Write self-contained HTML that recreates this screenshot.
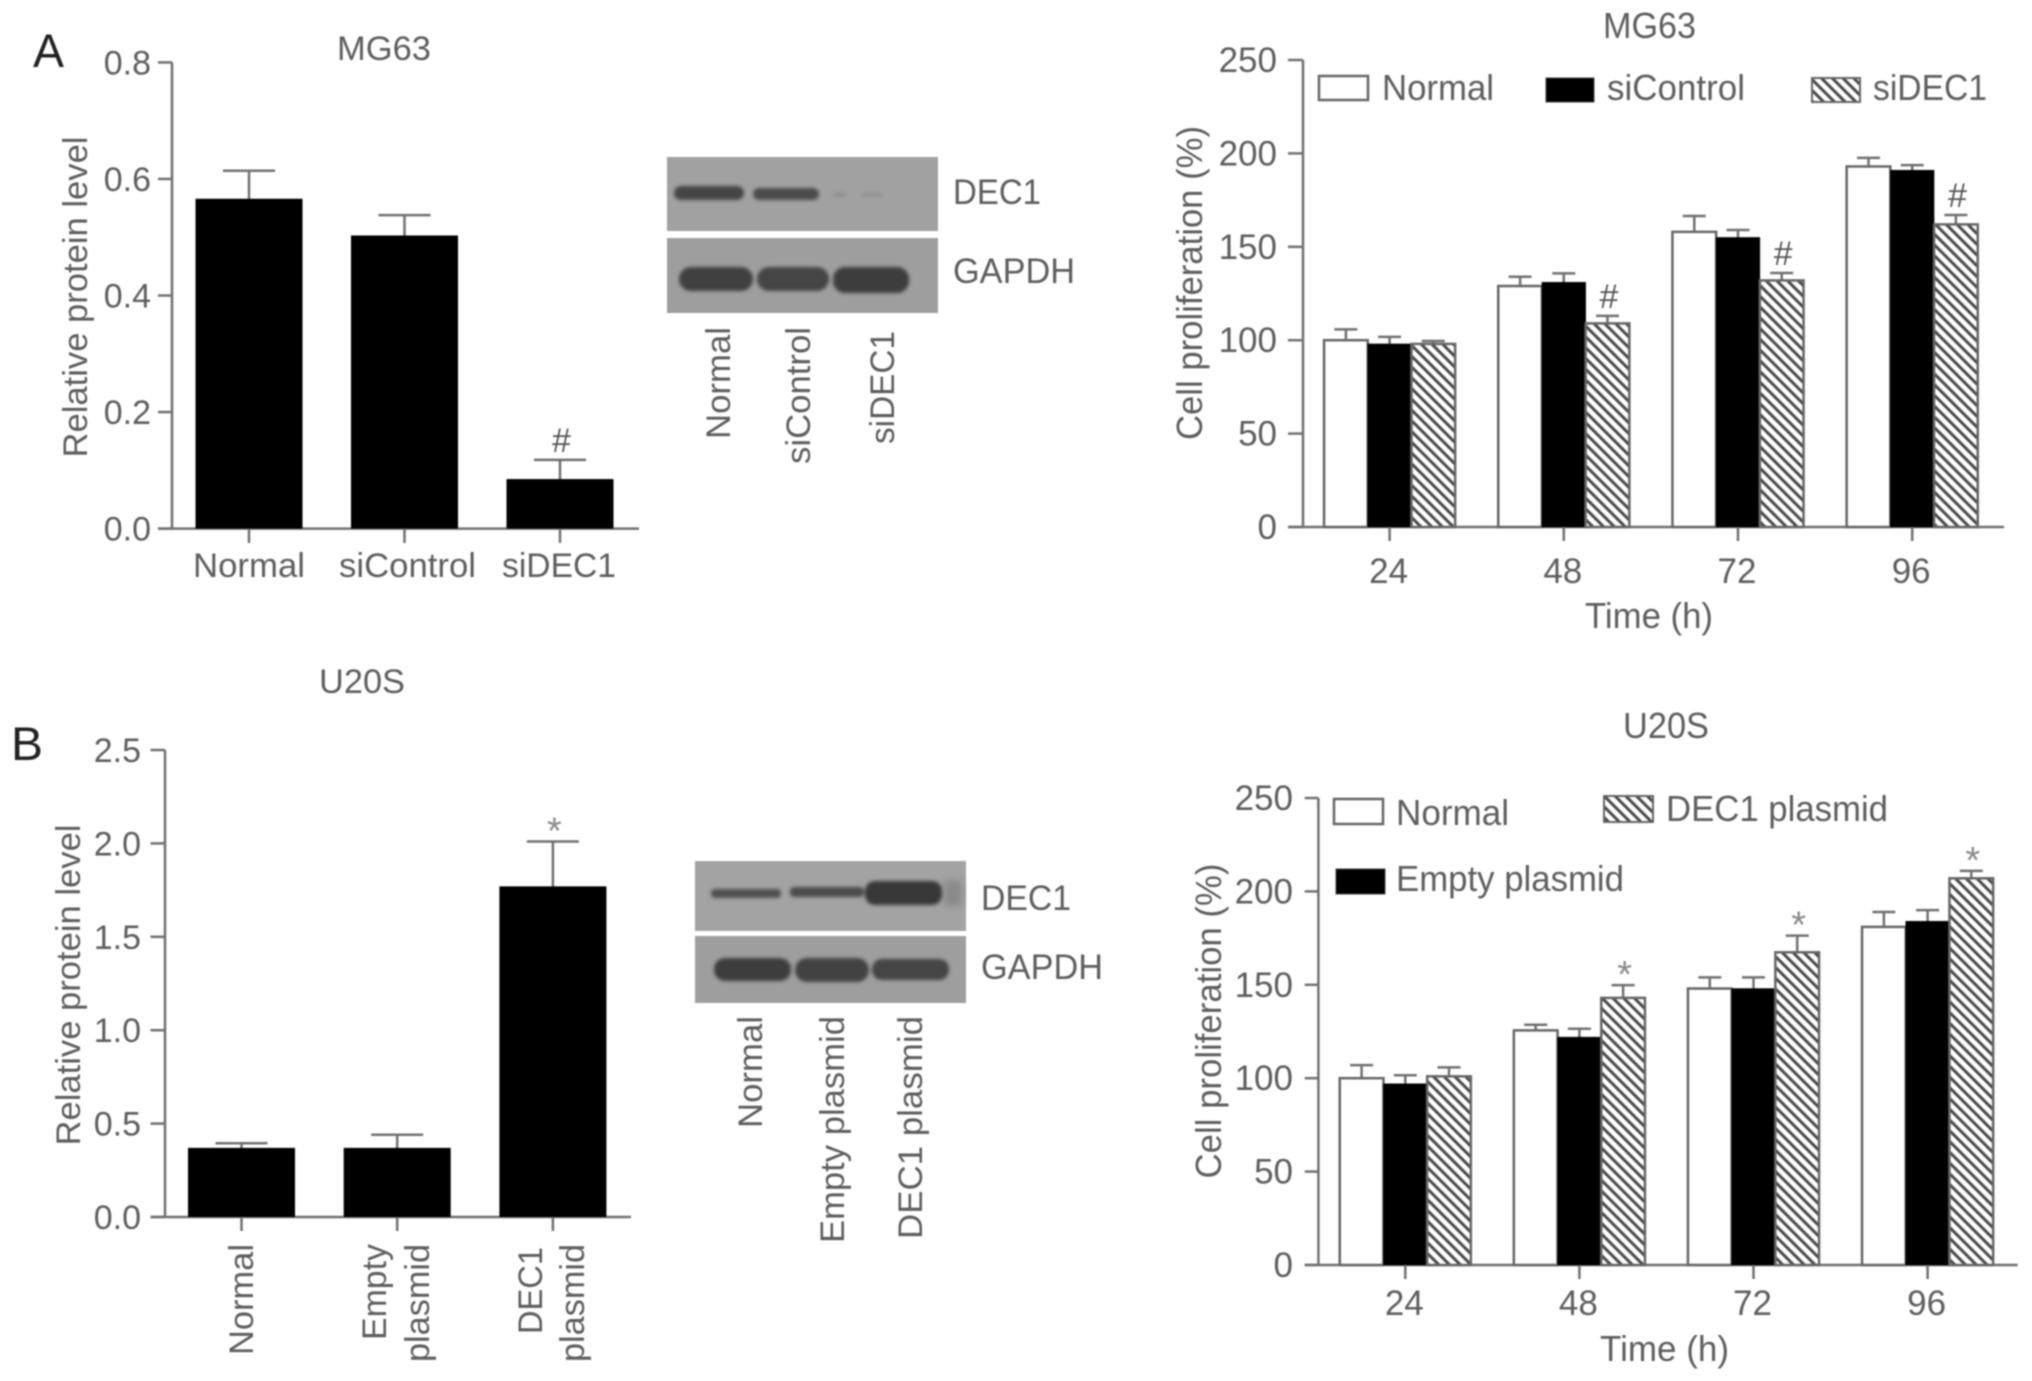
<!DOCTYPE html>
<html lang="en">
<head>
<meta charset="utf-8">
<title>DEC1 protein level and cell proliferation in MG63 and U20S cells</title>
<style>
  html, body { margin: 0; padding: 0; background: #fff; }
  body { width: 2032px; height: 1381px; overflow: hidden; }
  svg { display: block; filter: blur(0.7px); }
  text { font-family: "Liberation Sans", sans-serif; fill: #5e5e5e; font-size: 34px; }
  .panel { fill: #222; font-size: 47px; }
  .tall text { font-size: 36px; }
  #chartA2 text, #chartB2 text { font-size: 35px; }
  .tall .panel { font-size: 47px; }
</style>
</head>
<body>
<svg id="figure" xmlns="http://www.w3.org/2000/svg" width="2032" height="1381" viewBox="0 0 2032 1381">
  <defs>
    <pattern id="hatch" patternUnits="userSpaceOnUse" width="7.6" height="7.6" patternTransform="rotate(-45)">
      <rect width="7.6" height="7.6" fill="#fff"/>
      <rect width="3" height="7.6" fill="#4a4a4a"/>
    </pattern>
    <filter id="soft" x="-20%" y="-60%" width="140%" height="220%"><feGaussianBlur stdDeviation="1.8"/></filter>
    <filter id="softer" x="-30%" y="-100%" width="160%" height="300%"><feGaussianBlur stdDeviation="3.5"/></filter>
  </defs>
  <rect width="2032" height="1381" fill="#fff"/>

  <!-- Panel letters -->
  <text class="panel" x="33" y="67" textLength="31" lengthAdjust="spacingAndGlyphs">A</text>
  <text class="panel" x="11" y="760" textLength="32" lengthAdjust="spacingAndGlyphs">B</text>

  <!-- A, protein chart fixed labels -->
  <g>
    <text x="337" y="60" textLength="94" lengthAdjust="spacingAndGlyphs">MG63</text>
    <text transform="translate(87 297) rotate(-90)" text-anchor="middle" textLength="321" lengthAdjust="spacingAndGlyphs">Relative protein level</text>
    <text x="193" y="577" textLength="112" lengthAdjust="spacingAndGlyphs">Normal</text>
    <text x="339" y="577" textLength="137" lengthAdjust="spacingAndGlyphs">siControl</text>
    <text x="502" y="577" textLength="114" lengthAdjust="spacingAndGlyphs">siDEC1</text>
    <g id="chartA1"></g>
  </g>

  <!-- A, western blot -->
  <g>
    <rect x="667" y="157" width="271" height="74" fill="#a1a1a1"/>
    <rect x="667" y="238" width="271" height="75" fill="#9e9e9e"/>
    <g filter="url(#soft)">
      <rect x="674" y="186" width="70" height="14" rx="7" fill="#454545"/>
      <rect x="753" y="188" width="66" height="12" rx="6" fill="#4c4c4c"/>
      <rect x="833" y="193" width="13" height="3" fill="#888"/>
      <rect x="862" y="193" width="20" height="3" fill="#8c8c8c"/>
      <rect x="679" y="267" width="74" height="24" rx="12" fill="#3f3f3f"/>
      <rect x="757" y="267" width="72" height="24" rx="12" fill="#444"/>
      <rect x="833" y="267" width="76" height="26" rx="12" fill="#3c3c3c"/>
    </g>
    <text x="953" y="204" textLength="88" lengthAdjust="spacingAndGlyphs" style="font-size:35px">DEC1</text>
    <text x="953" y="283" textLength="122" lengthAdjust="spacingAndGlyphs" style="font-size:35px">GAPDH</text>
    <text transform="translate(730 439) rotate(-90)" textLength="112" lengthAdjust="spacingAndGlyphs">Normal</text>
    <text transform="translate(810 464) rotate(-90)" textLength="137" lengthAdjust="spacingAndGlyphs">siControl</text>
    <text transform="translate(894 444) rotate(-90)" textLength="113" lengthAdjust="spacingAndGlyphs">siDEC1</text>
  </g>

  <!-- A, proliferation chart fixed labels -->
  <g class="tall">
    <text x="1603" y="38" textLength="93" lengthAdjust="spacingAndGlyphs">MG63</text>
    <text transform="translate(1202 283) rotate(-90)" text-anchor="middle" textLength="314" lengthAdjust="spacingAndGlyphs">Cell proliferation (%)</text>
    <text x="1585" y="628" textLength="128" lengthAdjust="spacingAndGlyphs">Time (h)</text>
    <g id="chartA2"></g>
    <g>
      <rect x="1319" y="76" width="49" height="24" fill="#fff" stroke="#666" stroke-width="2.5"/>
      <text x="1382" y="100" textLength="112" lengthAdjust="spacingAndGlyphs">Normal</text>
      <rect x="1546" y="78" width="48" height="24" fill="#000" stroke="#444" stroke-width="1"/>
      <text x="1607" y="100" textLength="138" lengthAdjust="spacingAndGlyphs">siControl</text>
      <rect x="1812" y="78" width="48" height="24" fill="url(#hatch)" stroke="#666" stroke-width="2"/>
      <text x="1873" y="100" textLength="114" lengthAdjust="spacingAndGlyphs">siDEC1</text>
    </g>
  </g>

  <!-- B, protein chart fixed labels -->
  <g>
    <text x="319" y="693" textLength="86" lengthAdjust="spacingAndGlyphs">U20S</text>
    <text transform="translate(80 985) rotate(-90)" text-anchor="middle" textLength="321" lengthAdjust="spacingAndGlyphs">Relative protein level</text>
    <text transform="translate(253 1355) rotate(-90)" textLength="111" lengthAdjust="spacingAndGlyphs">Normal</text>
    <text transform="translate(386 1340) rotate(-90)" textLength="96" lengthAdjust="spacingAndGlyphs">Empty</text>
    <text transform="translate(429 1362) rotate(-90)" textLength="118" lengthAdjust="spacingAndGlyphs">plasmid</text>
    <text transform="translate(542 1334) rotate(-90)" textLength="87" lengthAdjust="spacingAndGlyphs">DEC1</text>
    <text transform="translate(584 1362) rotate(-90)" textLength="118" lengthAdjust="spacingAndGlyphs">plasmid</text>
    <g id="chartB1"></g>
  </g>

  <!-- B, western blot -->
  <g>
    <rect x="695" y="861" width="271" height="70" fill="#a3a3a3"/>
    <rect x="695" y="936" width="271" height="67" fill="#9e9e9e"/>
    <rect x="944" y="880" width="18" height="26" fill="#8a8a8a" filter="url(#softer)"/>
    <g filter="url(#soft)">
      <rect x="711" y="889" width="70" height="9" rx="4" fill="#505050"/>
      <rect x="790" y="887" width="74" height="10" rx="4" fill="#4c4c4c"/>
      <rect x="865" y="881" width="77" height="24" rx="10" fill="#393939"/>
      <rect x="714" y="958" width="77" height="23" rx="11" fill="#3e3e3e"/>
      <rect x="795" y="958" width="74" height="24" rx="12" fill="#424242"/>
      <rect x="872" y="959" width="77" height="21" rx="10" fill="#444"/>
    </g>
    <text x="981" y="910" textLength="90" lengthAdjust="spacingAndGlyphs" style="font-size:35px">DEC1</text>
    <text x="981" y="979" textLength="122" lengthAdjust="spacingAndGlyphs" style="font-size:35px">GAPDH</text>
    <text transform="translate(762 1128) rotate(-90)" textLength="112" lengthAdjust="spacingAndGlyphs">Normal</text>
    <text transform="translate(844 1243) rotate(-90)" textLength="227" lengthAdjust="spacingAndGlyphs">Empty plasmid</text>
    <text transform="translate(922 1239) rotate(-90)" textLength="223" lengthAdjust="spacingAndGlyphs">DEC1 plasmid</text>
  </g>

  <!-- B, proliferation chart fixed labels -->
  <g class="tall">
    <text x="1623" y="738" textLength="86" lengthAdjust="spacingAndGlyphs">U20S</text>
    <text transform="translate(1221 1021) rotate(-90)" text-anchor="middle" textLength="315" lengthAdjust="spacingAndGlyphs">Cell proliferation (%)</text>
    <text x="1600" y="1361" textLength="129" lengthAdjust="spacingAndGlyphs">Time (h)</text>
    <g id="chartB2"></g>
    <g>
      <rect x="1334" y="799" width="49" height="25" fill="#fff" stroke="#666" stroke-width="2.5"/>
      <text x="1396" y="825" textLength="113" lengthAdjust="spacingAndGlyphs">Normal</text>
      <rect x="1604" y="796" width="49" height="26" fill="url(#hatch)" stroke="#666" stroke-width="2"/>
      <text x="1666" y="821" textLength="222" lengthAdjust="spacingAndGlyphs">DEC1 plasmid</text>
      <rect x="1336" y="869" width="49" height="25" fill="#000" stroke="#444" stroke-width="1"/>
      <text x="1396" y="891" textLength="228" lengthAdjust="spacingAndGlyphs">Empty plasmid</text>
    </g>
  </g>
</svg>

<script>
// ---------- Chart data ----------
const mg63ProteinCategories = ['Normal', 'siControl', 'siDEC1'];
const mg63ProteinValues = [0.566, 0.503, 0.085];
const mg63ProteinErrorTops = [0.614, 0.538, 0.118];
const mg63ProteinMarkers = ['', '', '#'];
const mg63ProteinTicks = ['0.0', '0.2', '0.4', '0.6', '0.8'];

const u20sProteinCategories = ['Normal', 'Empty plasmid', 'DEC1 plasmid'];
const u20sProteinValues = [0.37, 0.37, 1.77];
const u20sProteinErrorTops = [0.395, 0.44, 2.01];
const u20sProteinMarkers = ['', '', '*'];
const u20sProteinTicks = ['0.0', '0.5', '1.0', '1.5', '2.0', '2.5'];

const timeCategories = ['24', '48', '72', '96'];
const proliferationTicks = ['0', '50', '100', '150', '200', '250'];

const mg63Normal = [100, 129, 158, 193];
const mg63NormalErr = [105.8, 134, 166.5, 197.6];
const mg63SiControl = [98, 131, 155, 191];
const mg63SiControlErr = [101.8, 135.8, 159, 193.7];
const mg63SiDec1 = [98, 109, 132, 162];
const mg63SiDec1Err = [99.6, 113, 136, 167];
const mg63Markers = ['', '#', '#', '#'];

const u20sNormal = [100, 125.6, 148, 181];
const u20sNormalErr = [107, 128.6, 154, 189];
const u20sEmpty = [97, 122, 148, 184];
const u20sEmptyErr = [101.6, 126.5, 154, 190];
const u20sDec1 = [101, 143, 167.4, 207];
const u20sDec1Err = [105.8, 149.8, 176.3, 211];
const u20sMarkers = ['', '*', '*', '*'];

// ---------- Drawing ----------
const NS = 'http://www.w3.org/2000/svg';
const AXIS = '#707070';

function mk(parent, tag, attrs, content) {
  const node = document.createElementNS(NS, tag);
  for (const k in attrs) node.setAttribute(k, attrs[k]);
  if (content !== undefined) node.textContent = content;
  parent.appendChild(node);
  return node;
}

function drawAxes(g, c, ticks, max) {
  const y = v => c.bottom - (v / max) * (c.bottom - c.top);
  const yLine = mk(g, 'line', { x1: c.axisX, x2: c.axisX, y1: c.top, y2: c.bottom, stroke: AXIS, 'stroke-width': 2.5 });
  
  
  const xLine = mk(g, 'line', { x1: c.tickLeft, x2: c.axisEnd, y1: c.bottom, y2: c.bottom, stroke: AXIS, 'stroke-width': 2.5 });
  
  
  ticks.forEach(t => {
    const v = parseFloat(t);
    const tick = mk(g, 'line', { x1: c.tickLeft, x2: c.axisX, y1: y(v), y2: y(v), stroke: AXIS, 'stroke-width': 2.5 });
    
    
    const label = mk(g, 'text', { x: c.tickLabelX, y: y(v) + 12, 'text-anchor': 'end' }, t);
    
    
  });
  return y;
}

function drawMarker(g, x, errY, mark) {
  if (!mark) return;
  const isHash = mark === '#';
  const m = mk(g, 'text', {
    x: x + 1.5, y: isHash ? errY - 8 : errY + 2, 'text-anchor': 'middle',
    style: isHash ? 'font-size:34px;fill:#555' : 'font-size:38px;fill:#8a8a8a'
  }, mark);
  
  
}

function drawError(g, x, topY, barY, capW) {
  const stem = mk(g, 'line', { x1: x, x2: x, y1: topY, y2: barY + 2, stroke: AXIS, 'stroke-width': 2.5 });
  
  
  const cap = mk(g, 'line', { x1: x - capW / 2, x2: x + capW / 2, y1: topY, y2: topY, stroke: AXIS, 'stroke-width': 2.5 });
  
  
}

function drawSingle(id, c, cats, vals, errs, marks, ticks, max) {
  const g = document.getElementById(id);
  const y = drawAxes(g, c, ticks, max);
  const cx = i => c.firstCenter + i * c.step;
  cats.forEach((cat, i) => {
    drawError(g, cx(i), y(errs[i]), y(vals[i]), c.capW);
    const bar = mk(g, 'rect', { x: cx(i) - c.barW / 2, y: y(vals[i]), width: c.barW, height: c.bottom - y(vals[i]), fill: '#000' });
    
    
    const tick = mk(g, 'line', { x1: cx(i), x2: cx(i), y1: c.bottom, y2: c.xTickEnd, stroke: AXIS, 'stroke-width': 2.5 });
    
    
    drawMarker(g, cx(i), y(errs[i]), marks[i]);
  });
}

function drawGrouped(id, c, cats, series, marks, ticks, max) {
  const g = document.getElementById(id);
  const y = drawAxes(g, c, ticks, max);
  const cx = i => c.firstCenter + i * c.step;
  cats.forEach((cat, i) => {
    series.forEach((s, j) => {
      const left = cx(i) + (j - 1.5) * c.barW;
      const mid = left + c.barW / 2;
      drawError(g, mid, y(s.err[i]), y(s.values[i]), c.capW);
      const bar = mk(g, 'rect', {
        x: left, y: y(s.values[i]), width: c.barW, height: c.bottom - y(s.values[i]),
        fill: s.fill, stroke: s.fill === '#000' ? '#000' : '#666', 'stroke-width': s.fill === '#000' ? 0.5 : 2.5
      });
      
      
      if (j === 2) drawMarker(g, mid, y(s.err[i]), marks[i]);
    });
    const tick = mk(g, 'line', { x1: cx(i), x2: cx(i), y1: c.bottom, y2: c.xTickEnd, stroke: AXIS, 'stroke-width': 2.5 });
    
    
    const label = mk(g, 'text', { x: cx(i) - 1, y: c.xLabelY, 'text-anchor': 'middle' }, cat);
    
    
  });
}

drawSingle('chartA1',
  { axisX: 172, top: 62.4, bottom: 528.6, tickLeft: 158, axisEnd: 639, tickLabelX: 151, firstCenter: 249, step: 155.5, barW: 107, capW: 52, xTickEnd: 543 },
  mg63ProteinCategories, mg63ProteinValues, mg63ProteinErrorTops, mg63ProteinMarkers, mg63ProteinTicks, 0.8);

drawSingle('chartB1',
  { axisX: 165, top: 750, bottom: 1217, tickLeft: 150.5, axisEnd: 631, tickLabelX: 141, firstCenter: 241.5, step: 155.7, barW: 107, capW: 52, xTickEnd: 1231 },
  u20sProteinCategories, u20sProteinValues, u20sProteinErrorTops, u20sProteinMarkers, u20sProteinTicks, 2.5);

drawGrouped('chartA2',
  { axisX: 1303, top: 60, bottom: 527, tickLeft: 1288, axisEnd: 2004, tickLabelX: 1277, firstCenter: 1389.6, step: 174.2, barW: 43.7, capW: 23, xTickEnd: 541, xLabelY: 583 },
  timeCategories,
  [
    { name: 'normal', values: mg63Normal, err: mg63NormalErr, fill: '#fff' },
    { name: 'sicontrol', values: mg63SiControl, err: mg63SiControlErr, fill: '#000' },
    { name: 'sidec1', values: mg63SiDec1, err: mg63SiDec1Err, fill: 'url(#hatch)' }
  ],
  mg63Markers, proliferationTicks, 250);

drawGrouped('chartB2',
  { axisX: 1318.4, top: 798, bottom: 1265, tickLeft: 1304.7, axisEnd: 2017.7, tickLabelX: 1293, firstCenter: 1405.3, step: 174.1, barW: 43.7, capW: 23, xTickEnd: 1279, xLabelY: 1315 },
  timeCategories,
  [
    { name: 'normal', values: u20sNormal, err: u20sNormalErr, fill: '#fff' },
    { name: 'empty-plasmid', values: u20sEmpty, err: u20sEmptyErr, fill: '#000' },
    { name: 'dec1-plasmid', values: u20sDec1, err: u20sDec1Err, fill: 'url(#hatch)' }
  ],
  u20sMarkers, proliferationTicks, 250);
</script>
</body>
</html>
